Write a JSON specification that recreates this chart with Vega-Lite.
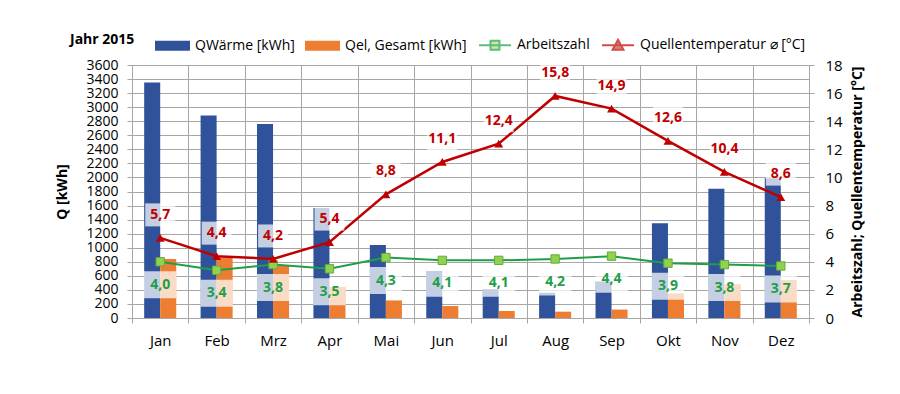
{
  "$schema": "https://vega.github.io/schema/vega-lite/v6.json",
  "width": 677,
  "height": 253,
  "autosize": {"type": "none"},
  "padding": {"left": 132, "top": 65, "right": 91, "bottom": 76},
  "background": "white",
  "datasets": {
    "bars": [
      {"month": "Jan", "series": "QWärme [kWh]", "kwh": 3350},
      {"month": "Feb", "series": "QWärme [kWh]", "kwh": 2880},
      {"month": "Mrz", "series": "QWärme [kWh]", "kwh": 2760},
      {"month": "Apr", "series": "QWärme [kWh]", "kwh": 1565},
      {"month": "Mai", "series": "QWärme [kWh]", "kwh": 1040},
      {"month": "Jun", "series": "QWärme [kWh]", "kwh": 670},
      {"month": "Jul", "series": "QWärme [kWh]", "kwh": 410},
      {"month": "Aug", "series": "QWärme [kWh]", "kwh": 360},
      {"month": "Sep", "series": "QWärme [kWh]", "kwh": 520},
      {"month": "Okt", "series": "QWärme [kWh]", "kwh": 1350},
      {"month": "Nov", "series": "QWärme [kWh]", "kwh": 1840},
      {"month": "Dez", "series": "QWärme [kWh]", "kwh": 1990},
      {"month": "Jan", "series": "Qel, Gesamt [kWh]", "kwh": 840},
      {"month": "Feb", "series": "Qel, Gesamt [kWh]", "kwh": 860},
      {"month": "Mrz", "series": "Qel, Gesamt [kWh]", "kwh": 740},
      {"month": "Apr", "series": "Qel, Gesamt [kWh]", "kwh": 445},
      {"month": "Mai", "series": "Qel, Gesamt [kWh]", "kwh": 250},
      {"month": "Jun", "series": "Qel, Gesamt [kWh]", "kwh": 170},
      {"month": "Jul", "series": "Qel, Gesamt [kWh]", "kwh": 100},
      {"month": "Aug", "series": "Qel, Gesamt [kWh]", "kwh": 90},
      {"month": "Sep", "series": "Qel, Gesamt [kWh]", "kwh": 120},
      {"month": "Okt", "series": "Qel, Gesamt [kWh]", "kwh": 350},
      {"month": "Nov", "series": "Qel, Gesamt [kWh]", "kwh": 480},
      {"month": "Dez", "series": "Qel, Gesamt [kWh]", "kwh": 540}
    ],
    "lines": [
      {"month": "Jan", "series": "Arbeitszahl", "value": 4.0},
      {"month": "Feb", "series": "Arbeitszahl", "value": 3.4},
      {"month": "Mrz", "series": "Arbeitszahl", "value": 3.8},
      {"month": "Apr", "series": "Arbeitszahl", "value": 3.5},
      {"month": "Mai", "series": "Arbeitszahl", "value": 4.3},
      {"month": "Jun", "series": "Arbeitszahl", "value": 4.1},
      {"month": "Jul", "series": "Arbeitszahl", "value": 4.1},
      {"month": "Aug", "series": "Arbeitszahl", "value": 4.2},
      {"month": "Sep", "series": "Arbeitszahl", "value": 4.4},
      {"month": "Okt", "series": "Arbeitszahl", "value": 3.9},
      {"month": "Nov", "series": "Arbeitszahl", "value": 3.8},
      {"month": "Dez", "series": "Arbeitszahl", "value": 3.7},
      {"month": "Jan", "series": "Quellentemperatur ⌀ [°C]", "value": 5.7},
      {"month": "Feb", "series": "Quellentemperatur ⌀ [°C]", "value": 4.4},
      {"month": "Mrz", "series": "Quellentemperatur ⌀ [°C]", "value": 4.2},
      {"month": "Apr", "series": "Quellentemperatur ⌀ [°C]", "value": 5.4},
      {"month": "Mai", "series": "Quellentemperatur ⌀ [°C]", "value": 8.8},
      {"month": "Jun", "series": "Quellentemperatur ⌀ [°C]", "value": 11.1},
      {"month": "Jul", "series": "Quellentemperatur ⌀ [°C]", "value": 12.4},
      {"month": "Aug", "series": "Quellentemperatur ⌀ [°C]", "value": 15.8},
      {"month": "Sep", "series": "Quellentemperatur ⌀ [°C]", "value": 14.9},
      {"month": "Okt", "series": "Quellentemperatur ⌀ [°C]", "value": 12.6},
      {"month": "Nov", "series": "Quellentemperatur ⌀ [°C]", "value": 10.4},
      {"month": "Dez", "series": "Quellentemperatur ⌀ [°C]", "value": 8.6}
    ]
  },
  "encoding": {
    "x": {
      "field": "month", "type": "nominal",
      "sort": ["Jan", "Feb", "Mrz", "Apr", "Mai", "Jun", "Jul", "Aug", "Sep", "Okt", "Nov", "Dez"],
      "scale": {"paddingInner": 0, "paddingOuter": 0},
      "axis": {"title": null, "labelAngle": 0, "tickBand": "extent", "grid": true, "tickSize": 5, "labelPadding": 10, "labelFontSize": 15}
    }
  },
  "layer": [
    {
      "data": {"name": "bars"},
      "mark": {"type": "bar"},
      "encoding": {
        "xOffset": {"field": "series", "type": "nominal", "sort": ["QWärme [kWh]", "Qel, Gesamt [kWh]"], "scale": {"domain": ["QWärme [kWh]", "Qel, Gesamt [kWh]"], "paddingOuter": 0.76, "paddingInner": 0}},
        "y": {
          "field": "kwh", "type": "quantitative",
          "scale": {"domain": [0, 3600], "nice": false},
          "axis": {"title": "Q [kWh]", "orient": "left", "values": [0, 200, 400, 600, 800, 1000, 1200, 1400, 1600, 1800, 2000, 2200, 2400, 2600, 2800, 3000, 3200, 3400, 3600], "format": "d", "labelOverlap": false, "grid": true, "tickSize": 5, "labelPadding": 9, "labelFontSize": 14, "titleFontSize": 14, "titleFontWeight": "bold", "titlePadding": 16, "domain": true}
        },
        "color": {
          "field": "series", "type": "nominal",
          "scale": {"domain": ["QWärme [kWh]", "Qel, Gesamt [kWh]"], "range": ["#2f529b", "#ed7d31"]},
          "legend": {"orient": "none", "legendX": -62, "legendY": -37, "direction": "horizontal", "title": "Jahr 2015", "titleOrient": "left", "titleFontSize": 14, "titleFontWeight": "bold", "titleFont": "Open Sans", "titleColor": "#000", "titlePadding": 20, "titleBaseline": "middle", "symbolType": "M-1,-0.29H1V0.29H-1Z", "symbolSize": 1225, "symbolStrokeWidth": 0, "labelFontSize": 14, "labelOffset": 5, "columnPadding": 10}
        }
      }
    },
    {
      "data": {"name": "lines"},
      "encoding": {
        "y": {
          "field": "value", "type": "quantitative",
          "scale": {"domain": [0, 18], "nice": false},
          "axis": {"title": "Arbeitszahl; Quellentemperatur [°C]", "orient": "right", "values": [0, 2, 4, 6, 8, 10, 12, 14, 16, 18], "format": "d", "grid": false, "tickSize": 5, "labelPadding": 11, "labelFontSize": 15, "titleFontSize": 14, "titleFontWeight": "bold", "titlePadding": 8, "titleAngle": 270, "titleBaseline": "top"}
        }
      },
      "layer": [
        {
          "transform": [{"filter": "datum.series == 'Arbeitszahl'"}],
          "mark": {"type": "line", "color": "#1f9e48", "strokeWidth": 2},
          "encoding": {}
        },
        {
          "transform": [{"filter": "datum.series != 'Arbeitszahl'"}],
          "mark": {"type": "line", "color": "#c00000", "strokeWidth": 2.5},
          "encoding": {}
        },
        {
          "transform": [{"filter": "datum.series == 'Arbeitszahl'"}],
          "mark": {"type": "point", "shape": "square", "filled": true, "size": 70, "fill": "#92d050", "stroke": "#5fae3a", "strokeWidth": 1, "opacity": 1},
          "encoding": {}
        },
        {
          "transform": [{"filter": "datum.series != 'Arbeitszahl'"}],
          "mark": {"type": "point", "shape": "triangle-up", "filled": true, "size": 80, "color": "#c00000", "opacity": 1},
          "encoding": {}
        },
        {
          "transform": [{"filter": "datum.series == 'Arbeitszahl'"}],
          "mark": {"type": "point", "shape": "M-1.2,-1H1.2V1H-1.2Z", "filled": true, "size": 729, "color": "white", "opacity": 0.72, "yOffset": 23},
          "encoding": {}
        },
        {
          "transform": [{"filter": "datum.series != 'Arbeitszahl'"}],
          "mark": {"type": "point", "shape": "M-1.3,-1H1.3V1H-1.3Z", "filled": true, "size": 529, "color": "white", "opacity": 0.72, "yOffset": -23},
          "encoding": {}
        },
        {
          "transform": [{"filter": "datum.series == 'Arbeitszahl'"}],
          "mark": {"type": "text", "dy": 23, "color": "#1f9e48", "fontWeight": "bold", "fontSize": 14, "font": "Open Sans", "baseline": "middle"},
          "encoding": {"text": {"field": "value", "type": "quantitative", "format": ".1f"}}
        },
        {
          "transform": [{"filter": "datum.series != 'Arbeitszahl'"}],
          "mark": {"type": "text", "dy": -23, "color": "#c00000", "fontWeight": "bold", "fontSize": 14, "font": "Open Sans", "baseline": "middle"},
          "encoding": {"text": {"field": "value", "type": "quantitative", "format": ".1f"}}
        },
        {
          "transform": [{"filter": "datum.series == 'keine'"}],
          "mark": {"type": "point", "filled": true},
          "encoding": {
            "shape": {"field": "series", "type": "nominal", "scale": {"domain": ["Arbeitszahl", "Quellentemperatur ⌀ [°C]"], "range": ["M-1,0H1M-0.28,-0.28H0.28V0.28H-0.28Z", "M-1,0H1M0,-0.34L0.34,0.28H-0.34Z"]}, "legend": {"orient": "none", "legendX": 346, "legendY": -37, "direction": "horizontal", "title": null, "symbolSize": 1024, "symbolStrokeWidth": 2, "labelFontSize": 14, "labelOffset": 5, "labelLimit": 300, "columnPadding": 8}},
            "fill": {"field": "series", "type": "nominal", "scale": {"domain": ["Arbeitszahl", "Quellentemperatur ⌀ [°C]"], "range": ["#92d050", "#c00000"]}, "legend": {"orient": "none", "legendX": 346, "legendY": -37, "direction": "horizontal", "title": null, "symbolSize": 1024, "symbolStrokeWidth": 2, "labelFontSize": 14, "labelOffset": 5, "labelLimit": 300, "columnPadding": 8}},
            "stroke": {"field": "series", "type": "nominal", "scale": {"domain": ["Arbeitszahl", "Quellentemperatur ⌀ [°C]"], "range": ["#1f9e48", "#c00000"]}, "legend": {"orient": "none", "legendX": 346, "legendY": -37, "direction": "horizontal", "title": null, "symbolSize": 1024, "symbolStrokeWidth": 2, "labelFontSize": 14, "labelOffset": 5, "labelLimit": 300, "columnPadding": 8}}
          }
        }
      ]
    }
  ],
  "resolve": {"scale": {"y": "independent"}},
  "config": {
    "view": {"stroke": null},
    "font": "Open Sans",
    "axis": {"labelFont": "Open Sans", "titleFont": "Open Sans", "labelColor": "#000", "titleColor": "#000", "gridColor": "#a6a6a6", "tickColor": "#a6a6a6", "domainColor": "#a6a6a6", "gridWidth": 1},
    "legend": {"labelFont": "Open Sans", "labelColor": "#000"},
    "locale": {"number": {"decimal": ",", "thousands": ".", "grouping": [3], "currency": ["", " €"]}}
  }
}
